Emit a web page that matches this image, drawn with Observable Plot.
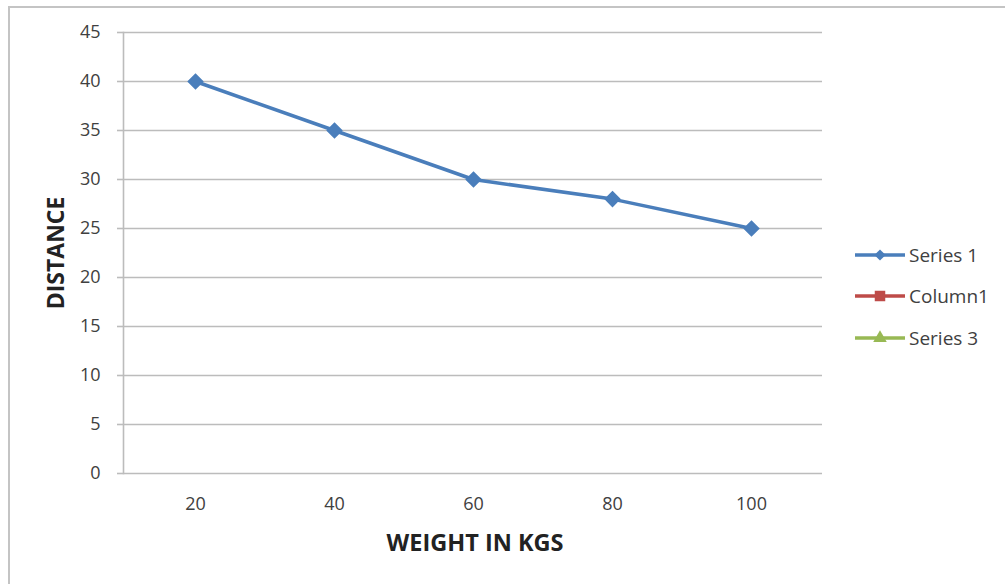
<!DOCTYPE html>
<html>
<head>
<meta charset="utf-8">
<script src="https://cdn.jsdelivr.net/npm/d3@7"></script>
<script src="https://cdn.jsdelivr.net/npm/@observablehq/plot@0.6"></script>
<style>
  html, body { margin: 0; padding: 0; background: #fff; }
  #wrap { position: relative; width: 1005px; height: 584px; overflow: hidden; font-family: "Open Sans", sans-serif; }
  #border { position: absolute; left: 8px; top: 6px; right: -10px; bottom: -10px; border-left: 2px solid #c4c4c4; border-top: 2px solid #c4c4c4; }
  #chart { position: absolute; left: 0; top: 0; }
  #legend { position: absolute; left: 855px; top: 234px; }
  .row { display: flex; align-items: center; height: 41.5px; }
  .row span { font-size: 19px; color: #404040; margin-left: 2px; }
</style>
</head>
<body>
<div id="wrap">
  <div id="border"></div>
  <div id="chart"></div>
  <div id="legend"></div>
</div>
<script>
const weights = ["20", "40", "60", "80", "100"];
const distances = [40, 35, 30, 28, 25];
const yTicks = [0, 5, 10, 15, 20, 25, 30, 35, 40, 45];
const seriesNames = ["Series 1", "Column1", "Series 3"];
const seriesColors = ["#4a7ebb", "#be4b48", "#98b954"];

const data = weights.map((w, i) => ({weight: w, distance: distances[i]}));
const grid = "#bcbcbc";

const chart = Plot.plot({
  width: 1005,
  height: 584,
  marginLeft: 123,
  marginRight: 183,
  marginTop: 32,
  marginBottom: 111,
  style: {fontFamily: "'Open Sans', sans-serif", fontSize: "18px", color: "#404040", background: "transparent"},
  x: {type: "point", domain: weights, padding: 0.5, label: null},
  y: {domain: [0, 45], label: null},
  marks: [
    Plot.gridY(yTicks, {stroke: grid, strokeOpacity: 1, strokeWidth: 1.6}),
    Plot.axisY({ticks: yTicks, tickSize: 6, tickPadding: 17, stroke: grid, strokeWidth: 1.6, fill: "#404040", fontSize: 18, label: null}),
    Plot.axisX({tickSize: 0, tickPadding: 24, fill: "#404040", fontSize: 18, label: null}),
    Plot.frame({anchor: "left", stroke: grid, strokeWidth: 1.6}),
    Plot.line(data, {x: "weight", y: "distance", stroke: seriesColors[0], strokeWidth: 3.5}),
    Plot.dot(data, {x: "weight", y: "distance", symbol: "diamond2", r: 6.5, fill: seriesColors[0], stroke: seriesColors[0]}),
    Plot.text(["DISTANCE"], {frameAnchor: "left", textAnchor: "middle", lineAnchor: "middle", dx: -67, dy: 0, rotate: -90, fontWeight: "bold", fontSize: 23, fill: "#222"}),
    Plot.text(["WEIGHT IN KGS"], {frameAnchor: "bottom", textAnchor: "middle", lineAnchor: "middle", dx: 2, dy: 70, fontWeight: "bold", fontSize: 23.5, fill: "#222"})
  ]
});
document.getElementById("chart").appendChild(chart);

// legend
const legend = d3.select("#legend");
seriesNames.forEach((name, i) => {
  const row = legend.append("div").attr("class", "row");
  const svg = row.append("svg").attr("width", 52).attr("height", 20);
  svg.append("line").attr("x1", 0).attr("x2", 50).attr("y1", 10).attr("y2", 10)
    .attr("stroke", seriesColors[i]).attr("stroke-width", 3.5);
  svg.append("path").attr("transform", "translate(25,10)")
    .attr("d", d3.symbol(i === 0 ? d3.symbolDiamond2 : i === 1 ? d3.symbolSquare : d3.symbolTriangle, i === 1 ? 110 : 80)())
    .attr("fill", seriesColors[i]);
  row.append("span").text(name);
});
</script>
</body>
</html>
